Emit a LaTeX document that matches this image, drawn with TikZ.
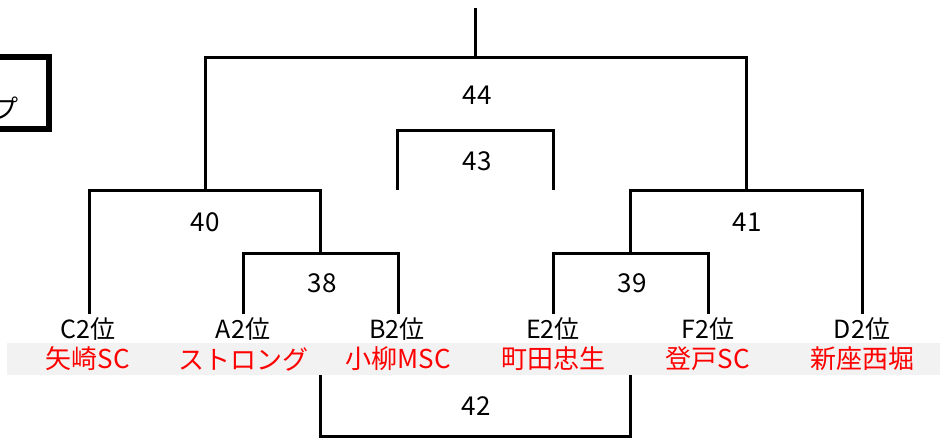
\documentclass[tikz,border=0pt]{standalone}
\usepackage{fontspec}
\setmainfont{Noto Sans CJK JP}
\usepackage{xcolor}
\usepackage{tikz}
\usetikzlibrary{calc}
\usetikzlibrary{positioning}

\definecolor{bandgray}{HTML}{F2F2F2}
\tikzset{
	bline/.style={line width=3pt,black},
	num/.style={font=\fontsize{26}{26}\selectfont},
	rank/.style={font=\fontsize{25}{25}\selectfont},
	team/.style={font=\fontsize{26}{26}\selectfont,text=red},
}

\begin{document}
\begin{tikzpicture}[x=1pt,y=-1pt]
		\useasboundingbox (0,0) rectangle (944,439);
		\fill[bandgray] (7,343) rectangle (940,375);
		\draw[line width=6pt] (-20,57) -- (48.5,57) -- (48.5,128.5) -- (-20,128.5);
		\node[font=\fontsize{26}{26}\selectfont] (cup) at (6,108) {プ};
		\coordinate (cC) at (89,314);
		\coordinate (cA) at (243,314);
		\coordinate (cB) at (398,314);
		\coordinate (cE) at (553,314);
		\coordinate (cF) at (708,314);
		\coordinate (cD) at (862,314);
		\coordinate (m38) at (320,253);
		\coordinate (m39) at (630,253);
		\coordinate (m40) at (205,190);
		\coordinate (m41) at (746,190);
		\coordinate (m44) at (475.5,57);
		\coordinate (top) at (475.5,8);
		\coordinate (m43) at (475,130);
		\coordinate (l43) at (397,190);
		\coordinate (r43) at (553,190);
		\coordinate (m42) at (475,436);
		\coordinate (l42) at (320,375);
		\coordinate (r42) at (630,375);
		\draw[bline] (cA) |- (m38) -| (cB);
		\draw[bline] (cE) |- (m39) -| (cF);
		\draw[bline] (cC) |- (m40) -| (m38);
		\draw[bline] (m39) |- (m41) -| (cD);
		\draw[bline] (m40) |- (m44) -| (m41);
		\draw[bline] (m44) -- (top);
		\draw[bline] (l43) |- (m43) -| (r43);
		\draw[bline] (l42) |- (m42) -| (r42);
		\node[num] (n44) at (477,95) {44};
		\node[num] (n43) at (477,161) {43};
		\node[num] (n40) at (205,222) {40};
		\node[num] (n41) at (747,222) {41};
		\node[num] (n38) at (322,283) {38};
		\node[num] (n39) at (632,283) {39};
		\node[num] (n42) at (476,406) {42};
		\node[rank] (rC) at (88,329) {C2位};
		\node[rank] (rA) at (243,329) {A2位};
		\node[rank] (rB) at (397,329) {B2位};
		\node[rank] (rE) at (553,329) {E2位};
		\node[rank] (rF) at (708,329) {F2位};
		\node[rank] (rD) at (862,329) {D2位};
		\node[team] (tC) at (88,359) {矢崎SC};
		\node[team] (tA) at (243,359) {ストロング};
		\node[team] (tB) at (398,359) {小柳MSC};
		\node[team] (tE) at (553,359) {町田忠生};
		\node[team] (tF) at (708,359) {登戸SC};
		\node[team] (tD) at (862,359) {新座西堀};
	\end{tikzpicture}
\end{document}
